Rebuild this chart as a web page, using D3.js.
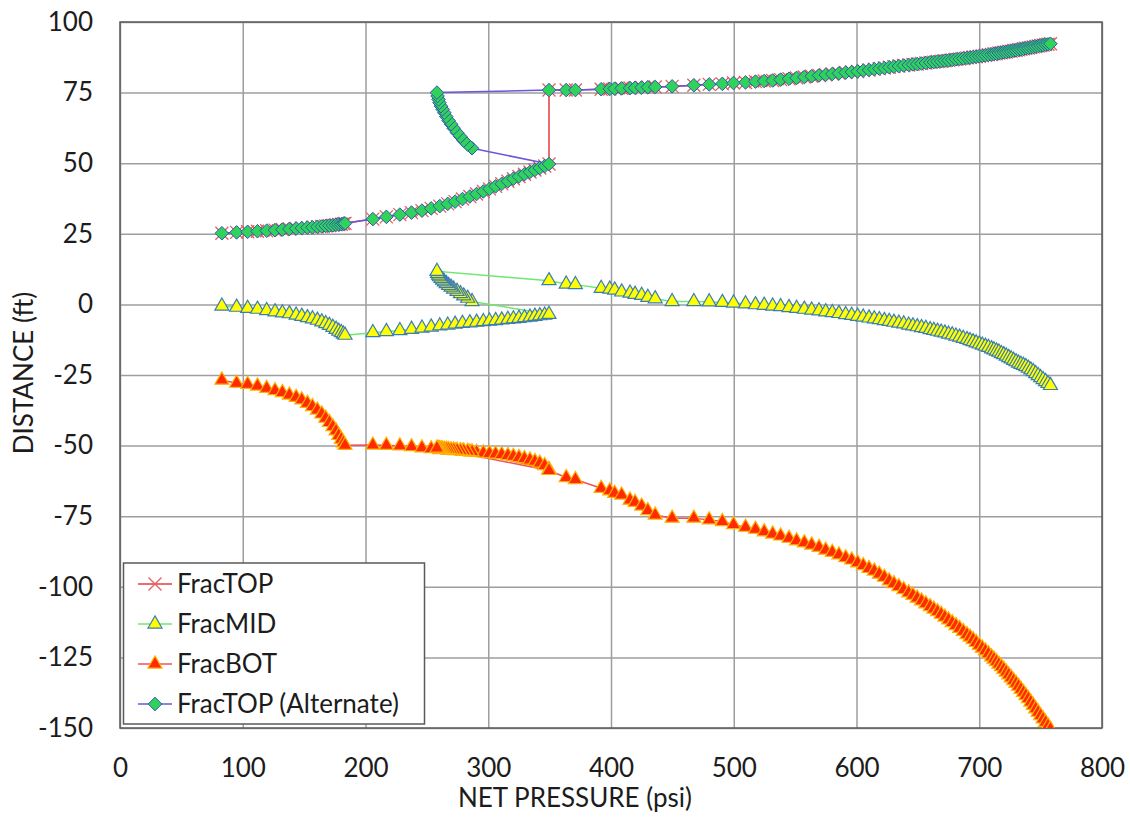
<!DOCTYPE html>
<html>
<head>
<meta charset="utf-8">
<script src="https://cdn.jsdelivr.net/npm/d3@7"></script>
<style>
  body { margin: 0; background: #fff; }
  svg text { font-family: Lato, "Open Sans", sans-serif; fill: #1c1c1c; }
</style>
</head>
<body>
<svg id="chart"></svg>
<script>
// shared net pressure (psi) for every series, in plotting order
const netPressure = [
  83, 95, 104, 112, 119.5, 126.3, 132.3, 138, 143.5, 148.1, 152.7, 156.8, 160.8, 164.4, 167.6, 170.6, 173.4, 176, 178.2, 180.3, 182, 183.3,
  206, 217, 228, 237.5, 246, 253.5, 260.5, 267, 273, 279, 285, 290.5, 296, 301, 306, 311, 316, 320.5, 325, 329.5, 334, 338, 342, 346, 349.5,
  286.8, 283.2, 280, 277.3, 274.6, 271.8, 269.7, 267.7, 265.8, 264.2, 262.8, 261.5, 260.3, 259.5, 258.7, 258.2,
  349.5, 363.5, 371, 392, 399, 403, 408.7, 415.5, 419.6, 425, 430, 436, 449.8, 467.5, 480, 490.7, 499.8, 509.6, 517.7, 524.8,
  531.7, 538.2, 545, 551.2, 557.5, 563.5, 569.5, 574.9, 580.3, 585.7, 591.2, 596.1, 600.9, 605.5, 610.2, 614.5, 618.6, 622.7, 626.7,
  630.5, 634.5, 638.5, 642.5, 646, 649.5, 653, 656.5, 660, 663, 666, 669, 672, 675, 678, 681, 684, 687, 690,
  692.5, 695, 697.5, 700, 702.5, 705, 707.5, 710, 712, 714, 716, 718, 720, 722, 724, 726, 728, 730, 732, 734,
  736, 738, 740, 742, 744, 746, 748, 750, 752, 754, 756, 758
];

const fracTop = [
  25.2, 25.5, 25.7, 25.9, 26.1, 26.3, 26.5, 26.7, 26.9, 27.0, 27.2, 27.3, 27.5, 27.6, 27.8, 27.9, 28.0, 28.2, 28.3, 28.4, 28.6, 28.7,
  30.2, 31.0, 31.8, 32.5, 33.2, 34.0, 34.8, 35.6, 36.4, 37.3, 38.2, 39.1, 40.0, 40.9, 41.8, 42.7, 43.6, 44.5, 45.3, 46.1, 46.9, 47.6, 48.3, 49.0, 49.7,
  null, null, null, null, null, null, null, null, null, null, null, null, null, null, null, null,
  75.9, 75.9, 75.9, 76.2, 76.3, 76.4, 76.5, 76.6, 76.7, 76.8, 76.9, 77.0, 77.2, 77.6, 77.9, 78.1, 78.4, 78.6, 78.9, 79.1,
  79.3, 79.6, 79.9, 80.2, 80.5, 80.8, 81.1, 81.3, 81.6, 81.8, 82.1, 82.3, 82.5, 82.8, 83.0, 83.3, 83.5, 83.7, 84.0,
  84.2, 84.4, 84.6, 84.8, 85.0, 85.1, 85.3, 85.5, 85.7, 85.8, 86.0, 86.1, 86.3, 86.4, 86.6, 86.8, 86.9, 87.1, 87.3,
  87.4, 87.6, 87.7, 87.9, 88.0, 88.2, 88.4, 88.5, 88.7, 88.8, 89.0, 89.1, 89.3, 89.4, 89.6, 89.7, 89.9, 90.0, 90.2, 90.3,
  90.5, 90.7, 90.8, 91.0, 91.2, 91.3, 91.5, 91.7, 91.8, 92.0, 92.1, 92.3
];

const fracMid = [
  -0.6, -1.0, -1.4, -1.7, -2.2, -2.6, -3.0, -3.3, -3.8, -4.2, -4.7, -5.1, -5.6, -6.2, -6.8, -7.4, -8.1, -8.8, -9.5, -10.0, -10.5, -10.9,
  -10.0, -9.6, -9.3, -8.8, -8.4, -8.0, -7.6, -7.3, -7.0, -6.7, -6.5, -6.3, -6.1, -5.9, -5.7, -5.5, -5.3, -5.1, -4.9, -4.7, -4.5, -4.2, -4.0, -3.8, -3.5,
  1.0, 2.2, 3.0, 3.8, 4.6, 5.4, 6.1, 6.7, 7.4, 8.0, 8.6, 9.2, 9.8, 10.4, 11.0, 11.7,
  8.4, 7.2, 7.0, 5.7, 5.4, 5.1, 4.4, 4.0, 3.6, 3.2, 2.5, 2.0, 1.0, 1.0, 0.9, 0.7, 0.5, 0.2, -0.1, -0.3,
  -0.6, -0.8, -1.1, -1.4, -1.7, -2.0, -2.3, -2.6, -2.9, -3.2, -3.6, -3.9, -4.2, -4.5, -4.8, -5.1, -5.4, -5.7, -6.0,
  -6.3, -6.6, -6.9, -7.3, -7.6, -7.9, -8.2, -8.5, -8.9, -9.2, -9.5, -9.8, -10.1, -10.5, -10.8, -11.2, -11.6, -12.0, -12.4,
  -12.8, -13.2, -13.6, -14.0, -14.4, -14.8, -15.2, -15.7, -16.1, -16.5, -16.9, -17.4, -17.8, -18.3, -18.8, -19.3, -19.8, -20.3, -20.8, -21.2,
  -21.6, -22.0, -22.6, -23.2, -23.8, -24.5, -25.2, -25.9, -26.6, -27.3, -28.0, -28.7
];

const fracBot = [
  -26.8, -27.9, -28.3, -28.9, -29.7, -30.5, -31.2, -32.1, -32.9, -33.8, -35.0, -36.2, -37.4, -38.8, -40.3, -41.8, -43.3, -44.8, -46.4, -47.8, -49.0, -49.9,
  -49.8, -49.9, -50.1, -50.4, -50.8, -51.1, -51.4, -51.6, -51.8, -52.0, -52.2, -52.4, -52.6, -52.8, -53.0, -53.2, -53.5, -53.8, -54.2, -54.6, -55.1, -55.6, -56.2, -57.1, -58.4,
  -52.2, -52.0, -51.9, -51.8, -51.7, -51.6, -51.5, -51.4, -51.3, -51.3, -51.2, -51.1, -51.1, -51.0, -51.0, -50.9,
  -58.8, -61.3, -62.0, -65.1, -66.0, -66.9, -67.5, -69.3, -70.1, -71.4, -73.0, -74.6, -75.7, -75.7, -76.3, -76.9, -78.0, -78.9, -79.6, -80.5,
  -81.3, -82.0, -82.8, -83.7, -84.4, -85.2, -86.0, -87.0, -87.8, -88.7, -89.7, -90.5, -91.5, -92.5, -93.5, -94.4, -95.5, -96.6, -97.9,
  -98.9, -99.9, -101.0, -102.1, -103.0, -104.0, -105.0, -106.0, -107.0, -107.9, -108.8, -109.7, -110.7, -111.7, -112.7, -113.7, -114.7, -115.8, -116.9,
  -117.8, -118.7, -119.7, -120.7, -121.7, -122.7, -123.7, -124.8, -125.6, -126.5, -127.4, -128.3, -129.2, -130.2, -131.2, -132.2, -133.2, -134.2, -135.2, -136.3,
  -137.4, -138.5, -139.6, -140.8, -142.0, -143.2, -144.4, -145.6, -146.8, -148.0, -149.2, -150.4
];

const fracTopAlt = [
  25.2, 25.5, 25.7, 25.9, 26.1, 26.3, 26.5, 26.7, 26.9, 27.0, 27.2, 27.3, 27.5, 27.6, 27.8, 27.9, 28.0, 28.2, 28.3, 28.4, 28.6, 28.7,
  30.2, 31.0, 31.8, 32.5, 33.2, 34.0, 34.8, 35.6, 36.4, 37.3, 38.2, 39.1, 40.0, 40.9, 41.8, 42.7, 43.6, 44.5, 45.3, 46.1, 46.9, 47.6, 48.3, 49.0, 49.7,
  55.3, 56.6, 58.0, 59.4, 60.8, 62.4, 63.8, 65.1, 66.5, 67.9, 69.1, 70.2, 71.4, 72.6, 73.8, 75.0,
  75.9, 75.9, 75.9, 76.2, 76.3, 76.4, 76.5, 76.6, 76.7, 76.8, 76.9, 77.0, 77.2, 77.6, 77.9, 78.1, 78.4, 78.6, 78.9, 79.1,
  79.3, 79.6, 79.9, 80.2, 80.5, 80.8, 81.1, 81.3, 81.6, 81.8, 82.1, 82.3, 82.5, 82.8, 83.0, 83.3, 83.5, 83.7, 84.0,
  84.2, 84.4, 84.6, 84.8, 85.0, 85.1, 85.3, 85.5, 85.7, 85.8, 86.0, 86.1, 86.3, 86.4, 86.6, 86.8, 86.9, 87.1, 87.3,
  87.4, 87.6, 87.7, 87.9, 88.0, 88.2, 88.4, 88.5, 88.7, 88.8, 89.0, 89.1, 89.3, 89.4, 89.6, 89.7, 89.9, 90.0, 90.2, 90.3,
  90.5, 90.7, 90.8, 91.0, 91.2, 91.3, 91.5, 91.7, 91.8, 92.0, 92.1, 92.3
];

const seriesNames = ["FracTOP", "FracMID", "FracBOT", "FracTOP (Alternate)"];
const xTicks = [0, 100, 200, 300, 400, 500, 600, 700, 800];
const yTicks = [-150, -125, -100, -75, -50, -25, 0, 25, 50, 75, 100];

const width = 1130;
const height = 818;
const plotLeft = 120, plotRight = 1102, plotTop = 22, plotBottom = 728;

const svg = d3.select("#chart").attr("width", width).attr("height", height);
svg.append("rect").attr("width", width).attr("height", height).attr("fill", "#fff");

const x = d3.scaleLinear().domain([0, 800]).range([plotLeft, plotRight]);
const y = d3.scaleLinear().domain([-150, 100]).range([plotBottom, plotTop]);

// gridlines
svg.append("g")
    .attr("class", "grid")
    .attr("transform", "translate(0," + plotBottom + ")")
    .call(d3.axisBottom(x).tickValues(xTicks).tickSize(-(plotBottom - plotTop)).tickFormat(""));
svg.append("g")
    .attr("class", "grid")
    .attr("transform", "translate(" + plotLeft + ",0)")
    .call(d3.axisLeft(y).tickValues(yTicks).tickSize(-(plotRight - plotLeft)).tickFormat(""));
svg.selectAll(".grid .domain").remove();
svg.selectAll(".grid line").attr("stroke", "#9e9e9e").attr("stroke-width", 1.5);

// tick labels (plain hyphen minus, like the original)
const plain = d => String(d);
const xAxis = svg.append("g")
    .attr("transform", "translate(0," + plotBottom + ")")
    .call(d3.axisBottom(x).tickValues(xTicks).tickFormat(plain).tickSize(0).tickPadding(31));
const yAxis = svg.append("g")
    .attr("transform", "translate(" + plotLeft + ",0)")
    .call(d3.axisLeft(y).tickValues(yTicks).tickFormat(plain).tickSize(0).tickPadding(27));
[xAxis, yAxis].forEach(a => {
    a.select(".domain").remove();
    a.selectAll("text").attr("font-size", 26).attr("fill", "#1c1c1c")
        .style("font-family", "Lato, 'Open Sans', sans-serif");
});

svg.append("rect")
    .attr("x", plotLeft).attr("y", plotTop)
    .attr("width", plotRight - plotLeft).attr("height", plotBottom - plotTop)
    .attr("fill", "none").attr("stroke", "#5a5a5a").attr("stroke-width", 1.5);

// axis titles
svg.append("text")
    .attr("x", 575).attr("y", 807)
    .attr("text-anchor", "middle")
    .attr("font-size", 26)
    .text("NET PRESSURE (psi)");
svg.append("text")
    .attr("transform", "translate(33,373)rotate(-90)")
    .attr("text-anchor", "middle")
    .attr("font-size", 26)
    .text("DISTANCE (ft)");

// markers
const markers = {
    cross: (g) => g.append("path")
        .attr("d", "M-6.5,-6.5L6.5,6.5M-6.5,6.5L6.5,-6.5")
        .attr("fill", "none").attr("stroke", "#e0605f").attr("stroke-width", 1.3),
    triMid: (g) => g.append("path")
        .attr("d", d3.symbol().type(d3.symbolTriangle).size(85)())
        .attr("fill", "#ffff00").attr("stroke", "#3a7db5").attr("stroke-width", 1.2),
    triBot: (g) => g.append("path")
        .attr("d", d3.symbol().type(d3.symbolTriangle).size(85)())
        .attr("fill", "#ff2a00").attr("stroke", "#ffb000").attr("stroke-width", 1.2),
    diamond: (g) => g.append("path")
        .attr("d", "M0,-6.8L6.8,0L0,6.8L-6.8,0Z")
        .attr("fill", "#2fd35a").attr("stroke", "#3556b0").attr("stroke-width", 1)
};

const series = [
    { name: seriesNames[0], values: fracTop, line: "#e83a3e", marker: "cross" },
    { name: seriesNames[1], values: fracMid, line: "#6ee86e", marker: "triMid" },
    { name: seriesNames[2], values: fracBot, line: "#f05058", marker: "triBot" },
    { name: seriesNames[3], values: fracTopAlt, line: "#6a56dc", marker: "diamond" }
];

svg.append("clipPath").attr("id", "plotClip")
    .append("rect").attr("x", plotLeft).attr("y", plotTop)
    .attr("width", plotRight - plotLeft).attr("height", plotBottom - plotTop);

const plot = svg.append("g").attr("clip-path", "url(#plotClip)");
const line = d3.line().x(d => x(d.p)).y(d => y(d.v));

series.forEach(s => {
    const pts = netPressure.map((p, i) => ({ p: p, v: s.values[i] })).filter(d => d.v != null);
    plot.append("path")
        .datum(pts)
        .attr("d", line)
        .attr("fill", "none")
        .attr("stroke", s.line)
        .attr("stroke-width", 1.5);
    plot.append("g").selectAll("g")
        .data(pts)
        .join("g")
        .attr("transform", d => "translate(" + x(d.p) + "," + y(d.v) + ")")
        .each(function () { markers[s.marker](d3.select(this)); });
});

// legend
const legend = svg.append("g");
legend.append("rect")
    .attr("x", 123.5).attr("y", 563)
    .attr("width", 301).attr("height", 161)
    .attr("fill", "#fff").attr("stroke", "#5a5a5a").attr("stroke-width", 1.5);
series.forEach((s, i) => {
    const ly = 584 + i * 40;
    legend.append("line")
        .attr("x1", 138).attr("x2", 172).attr("y1", ly).attr("y2", ly)
        .attr("stroke", s.line).attr("stroke-width", 1.5);
    markers[s.marker](legend.append("g").attr("transform", "translate(155," + ly + ")"));
    legend.append("text")
        .attr("x", 177).attr("y", ly)
        .attr("dy", "0.35em")
        .attr("font-size", 26)
        .text(s.name);
});
</script>
</body>
</html>
